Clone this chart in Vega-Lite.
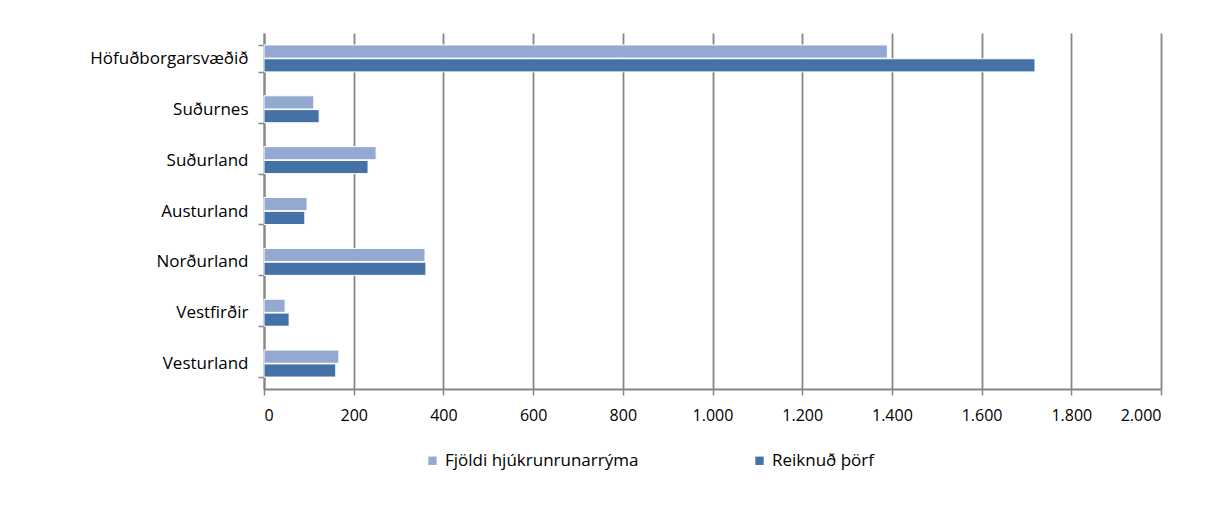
{
  "$schema": "https://vega.github.io/schema/vega-lite/v6.json",
  "autosize": {"type": "none"},
  "width": 897,
  "height": 356,
  "padding": {"left": 264, "top": 33, "right": 62, "bottom": 117},
  "background": "white",
  "data": {
    "values": [
      {"region": "Höfuðborgarsvæðið", "series": "Fjöldi hjúkrunrunarrýma", "value": 1390},
      {"region": "Höfuðborgarsvæðið", "series": "Reiknuð þörf", "value": 1719},
      {"region": "Suðurnes", "series": "Fjöldi hjúkrunrunarrýma", "value": 111},
      {"region": "Suðurnes", "series": "Reiknuð þörf", "value": 123},
      {"region": "Suðurland", "series": "Fjöldi hjúkrunrunarrýma", "value": 250},
      {"region": "Suðurland", "series": "Reiknuð þörf", "value": 232},
      {"region": "Austurland", "series": "Fjöldi hjúkrunrunarrýma", "value": 96},
      {"region": "Austurland", "series": "Reiknuð þörf", "value": 91},
      {"region": "Norðurland", "series": "Fjöldi hjúkrunrunarrýma", "value": 359},
      {"region": "Norðurland", "series": "Reiknuð þörf", "value": 361},
      {"region": "Vestfirðir", "series": "Fjöldi hjúkrunrunarrýma", "value": 47},
      {"region": "Vestfirðir", "series": "Reiknuð þörf", "value": 56},
      {"region": "Vesturland", "series": "Fjöldi hjúkrunrunarrýma", "value": 167},
      {"region": "Vesturland", "series": "Reiknuð þörf", "value": 160}
    ]
  },
  "mark": {"type": "bar", "stroke": "white", "strokeWidth": 1},
  "encoding": {
    "y": {
      "field": "region",
      "type": "nominal",
      "sort": ["Höfuðborgarsvæðið", "Suðurnes", "Suðurland", "Austurland", "Norðurland", "Vestfirðir", "Vesturland"],
      "scale": {"paddingInner": 0.47, "paddingOuter": 0.235},
      "axis": {
        "title": null,
        "labelFont": "Open Sans",
        "labelFontSize": 17,
        "labelColor": "#000000",
        "labelPadding": 10,
        "labelLimit": 300,
        "domainColor": "#868686",
        "domainWidth": 2,
        "tickColor": "#868686",
        "tickWidth": 1.5,
        "tickSize": 6,
        "tickBand": "extent",
        "grid": false
      }
    },
    "yOffset": {
      "field": "series",
      "type": "nominal",
      "sort": ["Fjöldi hjúkrunrunarrýma", "Reiknuð þörf"],
      "scale": {"paddingInner": 0.05}
    },
    "x": {
      "field": "value",
      "type": "quantitative",
      "scale": {"domain": [0, 2000], "nice": false},
      "axis": {
        "title": null,
        "values": [0, 200, 400, 600, 800, 1000, 1200, 1400, 1600, 1800, 2000],
        "labelExpr": "replace(format(datum.value, ','), ',', '.')",
        "labelFont": "Open Sans",
        "labelFontSize": 16,
        "labelColor": "#000000",
        "labelPadding": 12,
        "domainColor": "#868686",
        "domainWidth": 2,
        "tickColor": "#868686",
        "tickWidth": 1.5,
        "tickSize": 6,
        "grid": true,
        "gridColor": "#868686",
        "gridWidth": 1.8
      }
    },
    "color": {
      "field": "series",
      "type": "nominal",
      "sort": ["Fjöldi hjúkrunrunarrýma", "Reiknuð þörf"],
      "scale": {"range": ["#94A9D1", "#4472A7"]},
      "legend": {
        "title": null,
        "orient": "none",
        "legendX": 160,
        "legendY": 419,
        "direction": "horizontal",
        "symbolType": "square",
        "symbolSize": 70,
        "symbolStrokeWidth": 0,
        "labelFont": "Open Sans",
        "labelFontSize": 17,
        "labelColor": "#000000",
        "labelLimit": 300,
        "columnPadding": 112
      }
    }
  },
  "config": {"view": {"stroke": null}}
}
